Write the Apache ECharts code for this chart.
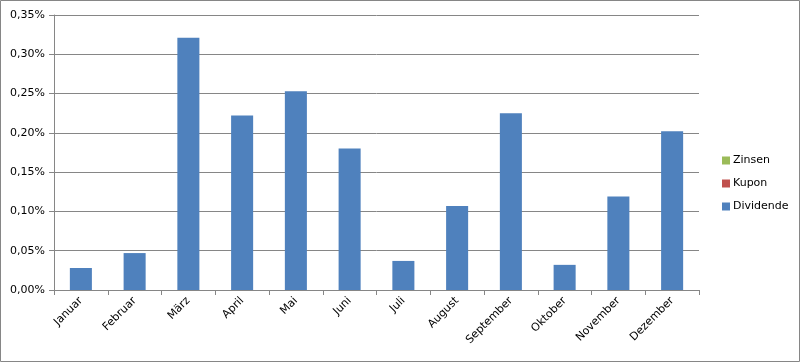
<!DOCTYPE html>
<html><head><meta charset="utf-8">
<script src="https://cdn.jsdelivr.net/npm/echarts@6/dist/echarts.min.js"></script>
<style>html,body{margin:0;padding:0;background:#fff}#c{width:800px;height:362px}</style>
</head><body><div id="c"></div>
<script>
const categories = ['Januar','Februar','März','April','Mai','Juni','Juli','August','September','Oktober','November','Dezember'];
const dividende = [0.028,0.047,0.321,0.222,0.253,0.180,0.037,0.107,0.225,0.032,0.119,0.202];
const kupon = [0,0,0,0,0,0,0,0,0,0,0,0];
const zinsen = [0,0,0,0,0,0,0,0,0,0,0,0];
const yTicks = [0,0.05,0.10,0.15,0.20,0.25,0.30,0.35];

const font = 'DejaVu Sans';
const chart = echarts.init(document.getElementById('c'));
chart.setOption({
  animation:false,
  graphic:[{type:'rect',shape:{x:0.5,y:0.5,width:799,height:361},style:{fill:'none',stroke:'#868686',lineWidth:1},silent:true}],
  grid:{left:54,right:101,top:15,bottom:72,containLabel:false},
  legend:{orient:'vertical',left:717,top:150,itemWidth:8,itemHeight:8,itemGap:12,
    icon:'rect',data:['Zinsen','Kupon','Dividende'],
    textStyle:{fontFamily:font,fontSize:11,color:'#000',padding:[0,0,0,-2]}},
  xAxis:{type:'category',data:categories,
    axisLine:{lineStyle:{color:'#868686'}},
    axisTick:{show:true,length:5,lineStyle:{color:'#868686'}},
    axisLabel:{rotate:45,fontFamily:font,fontSize:11,color:'#000',margin:9}},
  yAxis:{type:'value',min:0,max:0.35,interval:0.05,
    axisLine:{show:true,lineStyle:{color:'#868686'}},
    axisTick:{show:true,length:5,lineStyle:{color:'#868686'}},
    splitLine:{lineStyle:{color:'#868686'}},
    axisLabel:{fontFamily:font,fontSize:11,color:'#000',margin:9,
      formatter:v=>v.toFixed(2).replace('.',',')+'%'}},
  series:[
    {name:'Dividende',type:'bar',stack:'s',data:dividende,barWidth:'41%',itemStyle:{color:'#4F81BD'}},
    {name:'Kupon',type:'bar',stack:'s',data:kupon,itemStyle:{color:'#C0504D'}},
    {name:'Zinsen',type:'bar',stack:'s',data:zinsen,itemStyle:{color:'#9BBB59'}}
  ]
});
</script></body></html>
